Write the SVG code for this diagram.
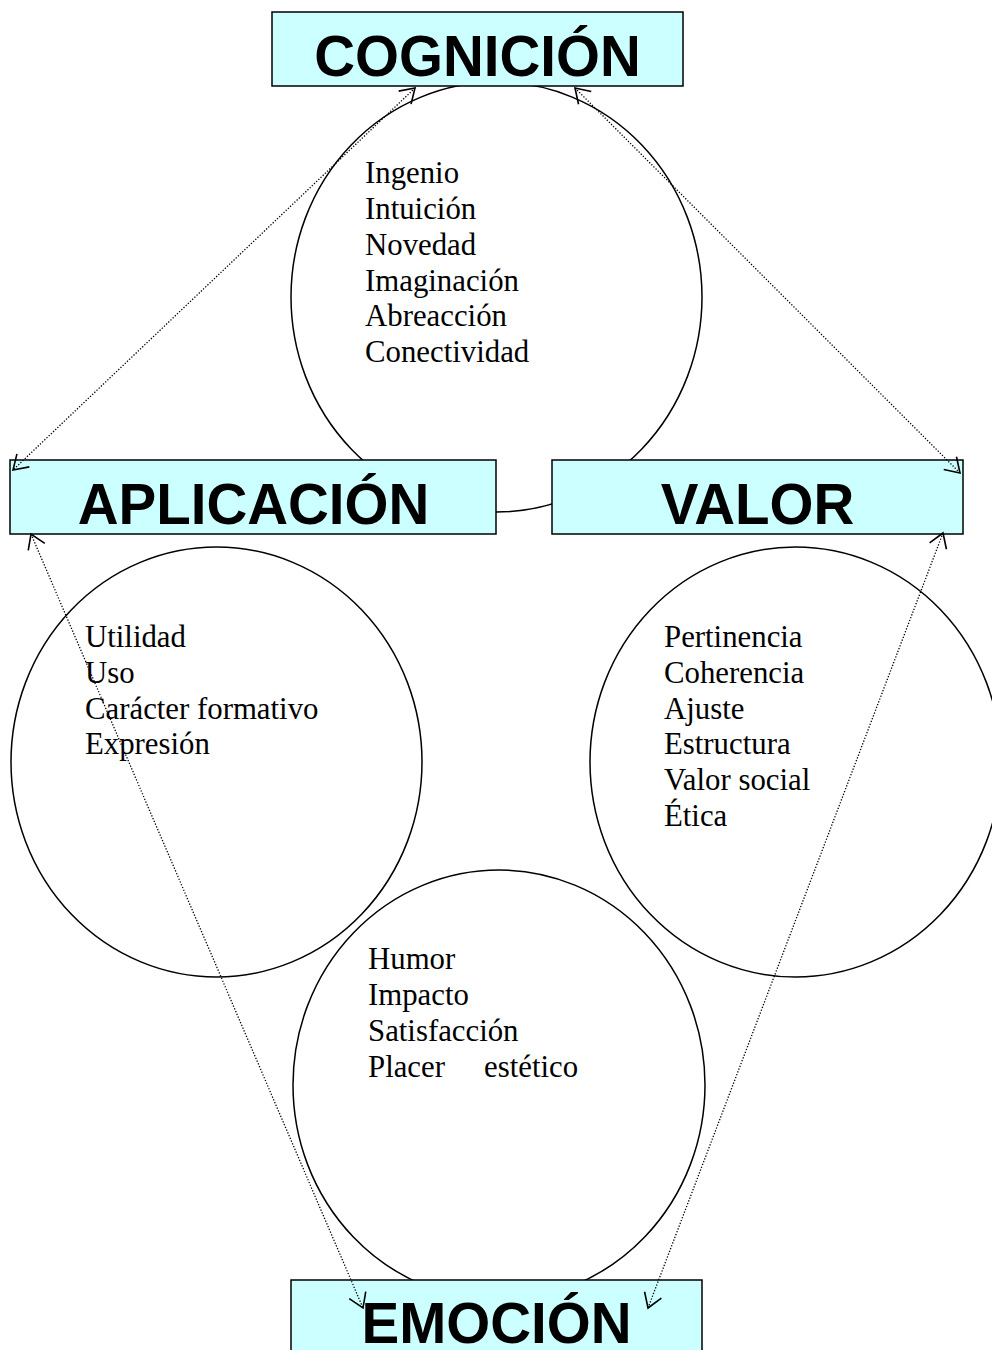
<svg xmlns="http://www.w3.org/2000/svg" width="992" height="1350" viewBox="0 0 992 1350">
<style>
.bg{fill:#ffffff}
.ring{fill:none;stroke:#000;stroke-width:1.5}
.box{fill:#ccffff;stroke:#000;stroke-width:1.5}
.title{font-family:"Liberation Sans",Arial,sans-serif;font-weight:bold;font-size:56.5px;fill:#000;text-anchor:middle}
.item{font-family:"Liberation Serif","Times New Roman",serif;font-size:30.8px;fill:#000}
.conn{fill:none;stroke:#000;stroke-width:1.3;stroke-dasharray:1.3 1.7;marker-start:url(#ah);marker-end:url(#ah)}
</style>
<defs>
<marker id="ah" markerUnits="userSpaceOnUse" markerWidth="30" markerHeight="30" viewBox="-20 -15 25 30" refX="0" refY="0" orient="auto-start-reverse" overflow="visible">
<path d="M-14,-9 L0,0 L-14,9" fill="none" stroke="#000" stroke-width="1.6"/>
</marker>
</defs>
<rect class="bg" x="0" y="0" width="992" height="1350"/>
<g id="circle-cognicion">
<ellipse class="ring" cx="496.5" cy="297" rx="205.5" ry="215"/>
<text class="item"><tspan x="365" y="183">Ingenio</tspan><tspan x="365" y="219">Intuición</tspan><tspan x="365" y="255">Novedad</tspan><tspan x="365" y="291">Imaginación</tspan><tspan x="365" y="326">Abreacción</tspan><tspan x="365" y="362">Conectividad</tspan></text>
</g>
<g id="circle-aplicacion">
<ellipse class="ring" cx="216.5" cy="762" rx="205.5" ry="215"/>
<text class="item"><tspan x="85" y="647">Utilidad</tspan><tspan x="85" y="683">Uso</tspan><tspan x="85" y="719">Carácter formativo</tspan><tspan x="85" y="754">Expresión</tspan></text>
</g>
<g id="circle-valor">
<ellipse class="ring" cx="795.5" cy="762" rx="205.5" ry="215"/>
<text class="item"><tspan x="664" y="647">Pertinencia</tspan><tspan x="664" y="683">Coherencia</tspan><tspan x="664" y="719">Ajuste</tspan><tspan x="664" y="754">Estructura</tspan><tspan x="664" y="790">Valor social</tspan><tspan x="664" y="826">Ética</tspan></text>
</g>
<g id="circle-emocion">
<ellipse class="ring" cx="499" cy="1085" rx="206" ry="215"/>
<text class="item"><tspan x="368" y="969">Humor</tspan><tspan x="368" y="1005">Impacto</tspan><tspan x="368" y="1041">Satisfacción</tspan><tspan x="368" y="1077">Placer</tspan><tspan x="484" y="1077">estético</tspan></text>
</g>
<g id="node-cognicion">
<rect class="box" x="272" y="12" width="411" height="74"/>
<text class="title" x="477.5" y="76">COGNICIÓN</text>
</g>
<g id="node-aplicacion">
<rect class="box" x="10" y="460" width="486" height="74"/>
<text class="title" x="253.5" y="524">APLICACIÓN</text>
</g>
<g id="node-valor">
<rect class="box" x="552" y="460" width="411" height="74"/>
<text class="title" x="757.5" y="524">VALOR</text>
</g>
<g id="node-emocion">
<rect class="box" x="291" y="1280" width="411" height="100"/>
<text class="title" x="496.5" y="1343">EMOCIÓN</text>
</g>
<g id="connectors">
<line class="conn" x1="415" y1="88" x2="13" y2="470"/>
<line class="conn" x1="575" y1="88" x2="960" y2="473"/>
<line class="conn" x1="31" y1="534" x2="363" y2="1308"/>
<line class="conn" x1="943" y1="533" x2="648" y2="1308"/>
</g>
</svg>
